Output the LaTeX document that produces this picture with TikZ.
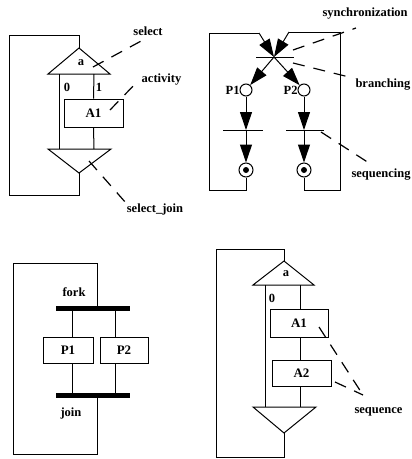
\documentclass[tikz,border=0pt]{standalone}
\usepackage{fontspec}
\setmainfont{Liberation Serif}
\usetikzlibrary{arrows.meta}
\begin{document}
\begin{tikzpicture}[x=1pt,y=-1pt,line width=1pt,
  lbl/.style={font=\bfseries\fontsize{12.5}{14}\selectfont,inner sep=0pt},
  boxnode/.style={draw,fill=white,inner sep=0pt,font=\bfseries\fontsize{13}{15}\selectfont},
  leader/.style={dash pattern=on 12pt off 9pt,line width=1.2pt},
  place/.style={draw,circle,minimum size=12pt,inner sep=0pt},
  endplace/.style={draw,circle,minimum size=14pt,inner sep=0pt},
  bigarrow/.style={-{Triangle[length=18pt,width=12pt]}},
  thickbar/.style={line width=5pt}]
\useasboundingbox (0,0) rectangle (412,459);

% ---------- Panel 1 ----------
\coordinate (p1apex) at (79,48);
\coordinate (p1bl) at (48,74);
\coordinate (p1br) at (110,74);
\coordinate (p1dl) at (48,149);
\coordinate (p1dr) at (111,149);
\coordinate (p1dapex) at (79,173);
\draw (p1bl) -- (p1apex) -- (p1br) -- cycle;
\draw (p1dl) -- (p1dr) -- (p1dapex) -- cycle;
\node[boxnode,minimum width=59pt,minimum height=28pt] (p1A1) at (93.5,113) {A1};
\draw (59,74) -- (59,149);
\draw (94,74) -- (p1A1.north);
\draw (p1A1.south) -- (94,149);
\draw (p1apex) -- (79,35) -- (9.5,35) -- (9.5,195) -- (79,195) -- (p1dapex);
\node[lbl] (p1a) at (81,63) {a};
\node[lbl] (p1zero) at (67,87) {0};
\node[lbl] (p1one) at (99,87) {1};
\node[lbl] (p1sel) at (148,31) {select};
\node[lbl] (p1act) at (161.5,80) {activity};
\node[lbl] (p1sj) at (155,209) {select\_join};
\coordinate (p1selA) at (93,67);
\coordinate (p1selB) at (143,40);
\coordinate (p1actA) at (110,110);
\coordinate (p1actB) at (137,82);
\coordinate (p1sjA) at (89,161);
\coordinate (p1sjB) at (126,203);
\draw[leader] (p1selA) -- (p1selB);
\draw[leader] (p1actA) -- (p1actB);
\draw[leader] (p1sjA) -- (p1sjB);

% ---------- Panel 2 ----------
\coordinate (p2c) at (274,57);
\coordinate (p2tl) at (259,33);
\coordinate (p2tr) at (289,32);
\draw (256,57) -- (294,57);
\node[place] (p2P1) at (246,90) {};
\node[place] (p2P2) at (304,90) {};
\node[lbl,anchor=east] (p2L1) at (240,90) {P1};
\node[lbl,anchor=east] (p2L2) at (298,90) {P2};
\draw[bigarrow] (p2tl) -- (p2c);
\draw[bigarrow] (p2tr) -- (p2c);
\draw[bigarrow] (p2c) -- (p2P1);
\draw[bigarrow] (p2c) -- (p2P2);
\coordinate (p2b1) at (246,130);
\coordinate (p2b2) at (304,130);
\draw (223,130) -- (263,130);
\draw (286,130) -- (324,130);
\node[endplace] (p2E1) at (246,170) {};
\node[endplace] (p2E2) at (304,170) {};
\fill (p2E1) circle (3pt);
\fill (p2E2) circle (3pt);
\draw[bigarrow] (p2P1) -- (p2b1);
\draw[bigarrow] (p2P2) -- (p2b2);
\draw[bigarrow] (p2b1) -- (p2E1);
\draw[bigarrow] (p2b2) -- (p2E2);
\draw (p2E1.south) -- (246,190) -- (209,190) -- (209,33) -- (p2tl);
\draw (p2E2.south) -- (304,190) -- (340,190) -- (340,32) -- (p2tr);
\node[lbl,anchor=west] (p2sync) at (322,14) {synchronization};
\node[lbl,anchor=west] (p2br) at (355,85) {branching};
\node[lbl,anchor=west] (p2seq) at (351,175) {sequencing};
\coordinate (p2syncA) at (293,50);
\coordinate (p2syncB) at (356,28);
\coordinate (p2brA) at (293,63);
\coordinate (p2brB) at (353,78);
\coordinate (p2seqA) at (321,132);
\coordinate (p2seqB) at (369,163);
\draw[leader] (p2syncA) -- (p2syncB);
\draw[leader] (p2brA) -- (p2brB);
\draw[leader] (p2seqA) -- (p2seqB);

% ---------- Panel 3 ----------
\coordinate (p3fork) at (97,308);
\coordinate (p3join) at (97,395);
\draw[thickbar] (56,308) -- (130,308);
\draw[thickbar] (56,395) -- (130,395);
\node[boxnode,minimum width=50pt,minimum height=26pt] (p3P1) at (68,350) {P1};
\node[boxnode,minimum width=48pt,minimum height=26pt] (p3P2) at (124,350) {P2};
\draw (72,308) -- (72,337);
\draw (72,363) -- (72,395);
\draw (115,308) -- (115,337);
\draw (115,363) -- (115,395);
\draw (p3fork) -- (97,263) -- (13,263) -- (13,454) -- (97,454) -- (p3join);
\node[lbl] (p3fk) at (74,292) {fork};
\node[lbl] (p3jn) at (71,413) {join};

% ---------- Panel 4 ----------
\coordinate (p4apex) at (284,261);
\coordinate (p4bl) at (253,285);
\coordinate (p4br) at (314,285);
\coordinate (p4dl) at (253,407);
\coordinate (p4dr) at (316,407);
\coordinate (p4dapex) at (284,433);
\draw (p4bl) -- (p4apex) -- (p4br) -- cycle;
\draw (p4dl) -- (p4dr) -- (p4dapex) -- cycle;
\node[boxnode,minimum width=58pt,minimum height=28pt] (p4A1) at (299,323) {A1};
\node[boxnode,minimum width=59pt,minimum height=26pt] (p4A2) at (301.5,373) {A2};
\draw (265,285) -- (265,407);
\draw (300,285) -- (300,309);
\draw (300,337) -- (300,360);
\draw (300,386) -- (300,407);
\draw (p4apex) -- (284,249) -- (216,249) -- (216,457.5) -- (284,457.5) -- (p4dapex);
\node[lbl] (p4a) at (286,274) {a};
\node[lbl] (p4zero) at (272,298) {0};
\node[lbl,anchor=west] (p4seq) at (354,412) {sequence};
\coordinate (p4l1A) at (319,327);
\coordinate (p4l2A) at (335,382);
\coordinate (p4lB) at (363,395);
\draw[leader] (p4l1A) -- (p4lB);
\draw[leader] (p4l2A) -- (p4lB);
\end{tikzpicture}
\end{document}
